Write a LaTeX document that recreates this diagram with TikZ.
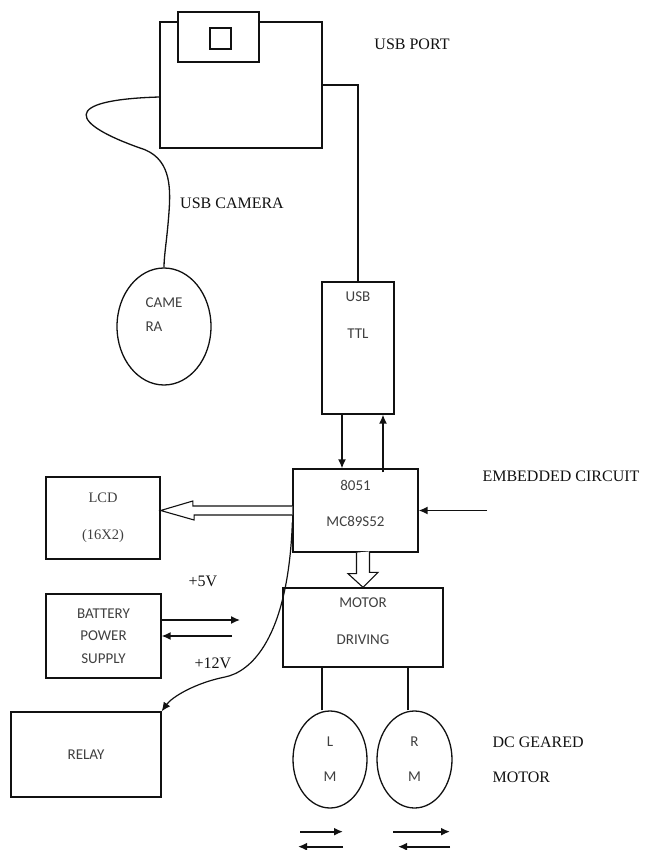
\documentclass[tikz,border=0pt]{standalone}
\usepackage{fontspec}
\setmainfont{Liberation Serif}
\newfontfamily\boxfont{Carlito}
\usetikzlibrary{arrows.meta,positioning,shapes.geometric}
\definecolor{ink}{HTML}{111111}
\definecolor{lead}{HTML}{404040}

\begin{document}
\begin{tikzpicture}[x=1pt,y=-1pt,every node/.style={font=\fontsize{16}{18}\selectfont},
 box/.style={draw=ink,line width=1.3pt,inner sep=0pt,align=center,font=\boxfont\fontsize{15}{18}\selectfont,text=lead},
 ell/.style={box,ellipse},
 lbl/.style={text=ink},
 wire/.style={draw=ink,line width=1.3pt},
 arr/.style={-{Latex[length=9pt,width=8pt]},ink,line width=1.4pt},
 hollow/.style={draw=ink,line width=1.1pt,fill=white}]
\useasboundingbox (0,0) rectangle (645,850);
% blocks
\node[box,minimum width=162pt,minimum height=126pt](port) at (241,85){};
\node[box,fill=white,minimum width=81pt,minimum height=50pt](jack) at (218.5,37){};
\node[box,minimum width=21pt,minimum height=21pt](slot) at (220.5,38.5){};
\node[ell,align=left,minimum width=94pt,minimum height=117pt,text depth=24pt](cam) at (164,326.5){CAME\\[6pt]RA};
\node[box,minimum width=72pt,minimum height=132pt,text depth=65pt](ttl) at (358,348){USB\\[19pt]TTL};
\node[box,minimum width=125pt,minimum height=83pt,text depth=15pt](mc) at (355.5,510.5){8051\\[18pt]MC89S52};
\node[box,font=\fontsize{14.5}{18}\selectfont,minimum width=114pt,minimum height=82pt](lcd) at (103,518){LCD\\[19pt](16X2)};
\node[box,minimum width=160pt,minimum height=79pt,text depth=12pt](motor) at (363,627.5){MOTOR\\[19pt]DRIVING};
\node[box,minimum width=115pt,minimum height=84pt](batt) at (103.5,636){BATTERY\\[4.5pt]POWER\\[4.5pt]SUPPLY};
\node[box,minimum width=150pt,minimum height=85pt](relay) at (86,754.5){RELAY};
\node[ell,minimum width=74pt,minimum height=97pt](lm) at (330,759.5){L\\[17pt]M};
\node[ell,minimum width=75pt,minimum height=97pt](rm) at (414.5,759.5){R\\[17pt]M};
% labels
\node[lbl](portlbl) at (412,44){USB PORT};
\node[lbl](camlbl) at (232,203){USB CAMERA};
\node[lbl,anchor=west](emblbl) at (479,476){EMBEDDED CIRCUIT};
\node[lbl](v5) at (203,581){+5V};
\node[lbl](v12) at (213,663){+12V};
\node[lbl,anchor=west](dclbl) at (489,742){DC GEARED};
\node[lbl,anchor=west](mlbl) at (489,777){MOTOR};
\coordinate (embin) at (487,510.5);
\coordinate (bout) at (240,620);
\coordinate (bin) at (232,636);
% wires
\draw[wire] (port.east) -| (ttl.north);
\draw[wire] ([yshift=-12pt]port.west) .. controls (58,100) and (72,124) .. (140,148)
 .. controls (170,157) and (171,185) .. (169,212) .. controls (167,240) and (164,255) .. (cam.north);
\draw[arr] ([xshift=-16pt]ttl.south) -- ([xshift=-16pt]ttl.south |- mc.north);
\draw[arr] ([xshift=25pt]ttl.south |- mc.north) ++(0,4) -- ([xshift=25pt]ttl.south);
\draw[arr] (embin) -- (mc.east);
\draw[hollow] ([yshift=4.5pt]mc.west) -- ++(-99.5,0) -- ++(0,-5) -- (lcd.east |- mc.west)
 -- ++(33.5,9.5) -- ++(0,-5) -- ([yshift=-4.5pt]mc.west);
\draw[hollow] (mc.south -| motor.north) ++(-6.5,0) -- ++(0,21) -- ++(-8.5,0) -- (motor.north)
 -- ++(15,-15) -- ++(-8.5,0) -- ++(0,-21);
\draw[arr] (batt.east |- bout) -- (bout);
\draw[arr] (bin) -- (batt.east);
\draw[arr,line width=1.2pt] ([yshift=-12pt]mc.west) .. controls (288,640) and (250,672) .. (225,677)
 .. controls (195,683) and (172,697) .. (relay.north east);
\foreach \m/\d in {lm/-8,rm/-6.5}{\draw[wire] ([xshift=\d pt]\m.north) -- ([xshift=\d pt]\m.north |- motor.south);}
\foreach \m/\s/\l in {lm/-30/43,rm/-21.5/57}{\draw[arr,line width=1.7pt] (\m.south) ++(\s,23) -- ++(\l,0);}
\foreach \m/\s/\l in {lm/13/-45,rm/35.5/-52}{\draw[arr,line width=1.7pt] (\m.south) ++(\s,38) -- ++(\l,0);}
\end{tikzpicture}
\end{document}
